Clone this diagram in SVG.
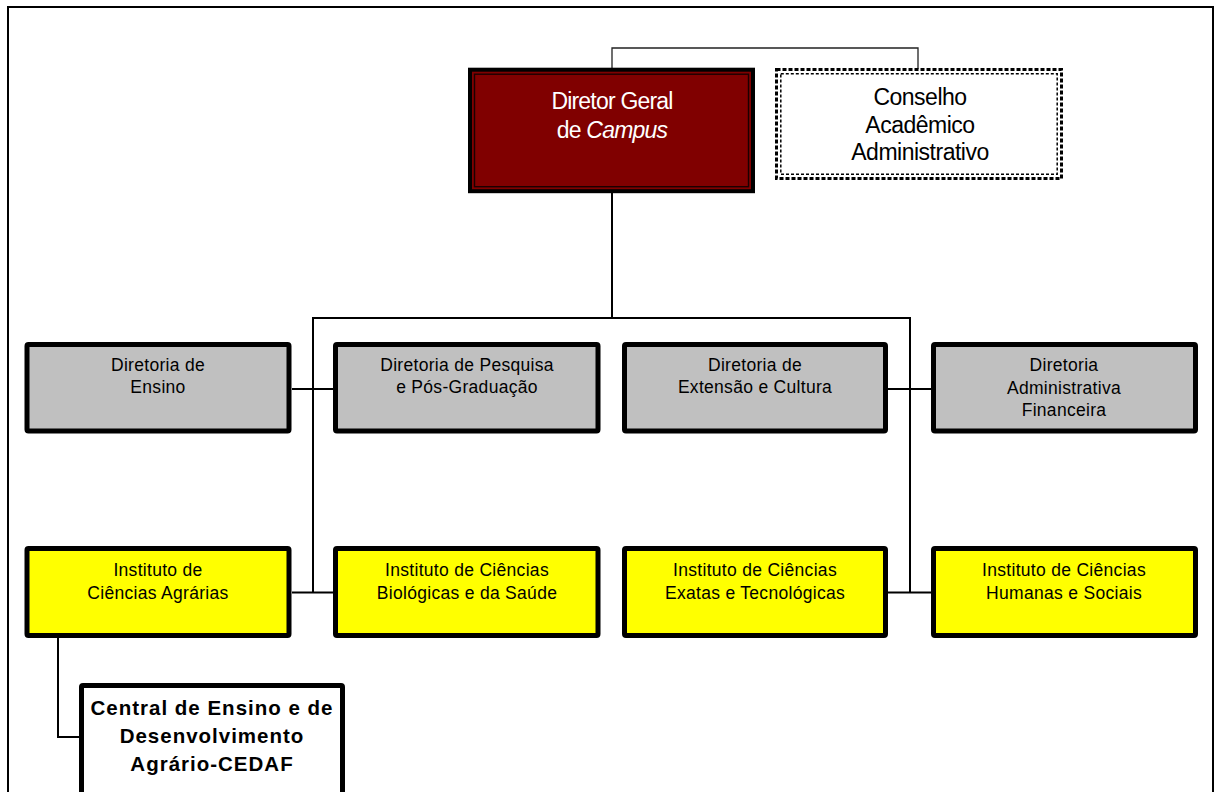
<svg xmlns="http://www.w3.org/2000/svg" width="1215" height="792" viewBox="0 0 1215 792">
<style>
text{font-family:"Liberation Sans",Arial,sans-serif;text-anchor:middle}
.frame{fill:none;stroke:#000;stroke-width:2}
.gray{fill:#c0c0c0;stroke:#000;stroke-width:5}
.yellow{fill:#ffff00;stroke:#000;stroke-width:5}
.white{fill:#fff;stroke:#000;stroke-width:5}
.t{font-size:17.5px;letter-spacing:0.3px;fill:#000}
.big{font-size:23px;letter-spacing:-0.8px;fill:#fff}
.cons{font-size:23px;letter-spacing:-0.5px;fill:#000}
.bold{font-size:20.5px;font-weight:bold;letter-spacing:1px;fill:#000}
.conn{fill:none;stroke:#000;stroke-width:2}
.thin{fill:none;stroke:#222;stroke-width:1.3}
</style>
<rect class="frame" x="8" y="7" width="1205" height="800"/>
<g id="connectors">
<polyline class="thin" points="612,68 612,48 918,48 918,69"/>
<line class="conn" x1="612" y1="193" x2="612" y2="318"/>
<polyline class="conn" points="313,592 313,318 910,318 910,592"/>
<line class="conn" x1="292" y1="389" x2="333" y2="389"/>
<line class="conn" x1="888" y1="389" x2="931" y2="389"/>
<line class="conn" x1="292" y1="592.5" x2="333" y2="592.5"/>
<line class="conn" x1="888" y1="592.5" x2="931" y2="592.5"/>
<polyline class="conn" points="58,638 58,737 80,737"/>
</g>
<g id="diretor-geral">
<rect x="470" y="69.7" width="283" height="121.5" fill="#800000" stroke="#000" stroke-width="4"/>
<rect x="474.5" y="74.2" width="274" height="112.5" fill="none" stroke="#1a0000" stroke-width="1.4"/>
<text class="big" x="612" y="109">Diretor Geral</text>
<text class="big" x="612" y="138">de <tspan font-style="italic">Campus</tspan></text>
</g>
<g id="conselho">
<rect x="776.5" y="69.5" width="285" height="109" fill="#fff" stroke="#000" stroke-width="3" stroke-dasharray="4 2"/>
<rect x="780.8" y="73.8" width="276.4" height="100.4" fill="none" stroke="#000" stroke-width="1.5" stroke-dasharray="3 2"/>
<text class="cons" x="920" y="105">Conselho</text>
<text class="cons" x="920" y="132.5">Acadêmico</text>
<text class="cons" x="920" y="160">Administrativo</text>
</g>
<g id="dir-ensino">
<rect class="gray" x="27" y="344.5" width="262" height="86.5" rx="1.5"/>
<text class="t" x="158" y="371">Diretoria de</text>
<text class="t" x="158" y="393">Ensino</text>
</g>
<g id="dir-pesquisa">
<rect class="gray" x="335.5" y="344.5" width="262.5" height="86.5" rx="1.5"/>
<text class="t" x="467" y="371">Diretoria de Pesquisa</text>
<text class="t" x="467" y="393">e Pós-Graduação</text>
</g>
<g id="dir-extensao">
<rect class="gray" x="624.5" y="344.5" width="261" height="86.5" rx="1.5"/>
<text class="t" x="755" y="371">Diretoria de</text>
<text class="t" x="755" y="393">Extensão e Cultura</text>
</g>
<g id="dir-administrativa">
<rect class="gray" x="933.5" y="344.5" width="262" height="86.5" rx="1.5"/>
<text class="t" x="1064" y="371">Diretoria</text>
<text class="t" x="1064" y="394">Administrativa</text>
<text class="t" x="1064" y="416">Financeira</text>
</g>
<g id="inst-agrarias">
<rect class="yellow" x="27" y="548.5" width="262" height="87" rx="1.5"/>
<text class="t" x="158" y="576">Instituto de</text>
<text class="t" x="158" y="599">Ciências Agrárias</text>
</g>
<g id="inst-biologicas">
<rect class="yellow" x="335.5" y="548.5" width="262.5" height="87" rx="1.5"/>
<text class="t" x="467" y="576">Instituto de Ciências</text>
<text class="t" x="467" y="599">Biológicas e da Saúde</text>
</g>
<g id="inst-exatas">
<rect class="yellow" x="624.5" y="548.5" width="261" height="87" rx="1.5"/>
<text class="t" x="755" y="576">Instituto de Ciências</text>
<text class="t" x="755" y="599">Exatas e Tecnológicas</text>
</g>
<g id="inst-humanas">
<rect class="yellow" x="933.5" y="548.5" width="262" height="87" rx="1.5"/>
<text class="t" x="1064" y="576">Instituto de Ciências</text>
<text class="t" x="1064" y="599">Humanas e Sociais</text>
</g>
<g id="cedaf">
<rect class="white" x="81.5" y="685.5" width="261" height="130" rx="1.5"/>
<text class="bold" x="212" y="715">Central de Ensino e de</text>
<text class="bold" x="212" y="743">Desenvolvimento</text>
<text class="bold" x="212" y="771">Agrário-CEDAF</text>
</g>
</svg>
